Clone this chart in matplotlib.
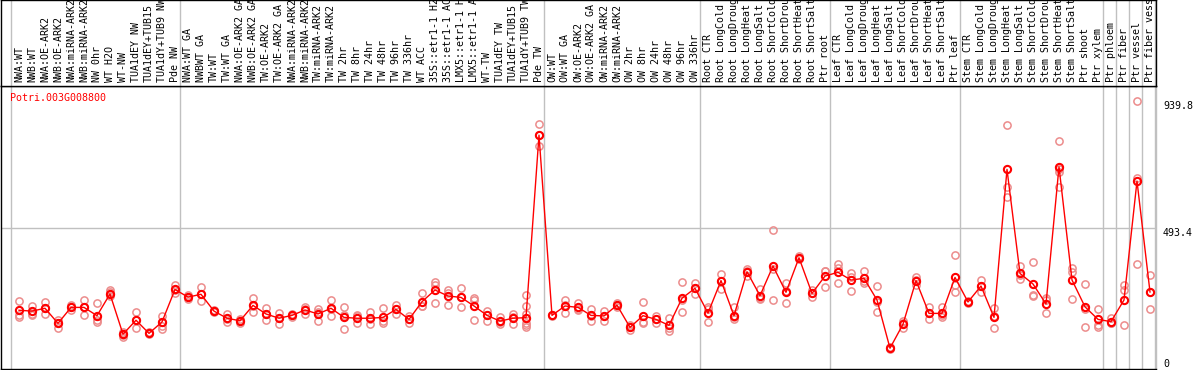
import numpy as np
import matplotlib
matplotlib.use('Agg')
from matplotlib import pyplot as plt
from matplotlib import transforms

gene = "Potri.003G008800"

samples = ["NWA:WT", "NWB:WT", "NWA:OE-ARK2", "NWB:OE-ARK2", "NWA:miRNA-ARK2", "NWB:miRNA-ARK2",
           "NW 0hr", "WT H2O", "WT-NW", "TUA1dEY NW", "TUA1dEY+TUB15", "TUA1dY+TUB9 NW", "Pde NW",
           "NWA:WT GA", "NWBWT GA", "TW:WT", "TW:WT GA", "NWA:OE-ARK2 GA", "NWB:OE-ARK2 GA",
           "TW:OE-ARK2", "TW:OE-ARK2 GA", "NWA:miRNA-ARK2", "NWB:miRNA-ARK2", "TW:miRNA-ARK2",
           "TW:miRNA-ARK2", "TW 2hr", "TW 8hr", "TW 24hr", "TW 48hr", "TW 96hr", "TW 336hr", "WT ACC",
           "35S::etr1-1 H2", "35S::etr1-1 AC", "LMX5::etr1-1 H", "LMX5::etr1-1 A", "WT-TW",
           "TUA1dEY TW", "TUA1dEY+TUB15", "TUA1dY+TUB9 TW", "Pde TW",
           "OW:WT", "OW:WT GA", "OW:OE-ARK2", "OW:OE-ARK2 GA", "OW:miRNA-ARK2", "OW:miRNA-ARK2",
           "OW 2hr", "OW 8hr", "OW 24hr", "OW 48hr", "OW 96hr", "OW 336hr",
           "Root CTR", "Root LongCold", "Root LongDroug", "Root LongHeat", "Root LongSalt",
           "Root ShortCold", "Root ShortDrou", "Root ShortHeat", "Root ShortSalt", "Ptr root",
           "Leaf CTR", "Leaf LongCold", "Leaf LongDroug", "Leaf LongHeat", "Leaf LongSalt",
           "Leaf ShortCold", "Leaf ShortDrou", "Leaf ShortHeat", "Leaf ShortSalt", "Ptr leaf",
           "Stem CTR", "Stem LongCold", "Stem LongDroug", "Stem LongHeat", "Stem LongSalt",
           "Stem ShortCold", "Stem ShortDrou", "Stem ShortHeat", "Stem ShortSalt", "Ptr shoot",
           "Ptr xylem", "Ptr phloem", "Ptr fiber", "Ptr vessel", "Ptr fiber vess"]

# index where each sample group starts
group_starts = [0, 13, 41, 53, 63, 73, 84, 85, 86, 87, 88]

means = [206, 203, 213, 160, 216, 216, 187, 263, 122, 171, 125, 165, 279, 252, 262, 203, 178, 169,
         223, 193, 178, 188, 207, 193, 213, 181, 178, 178, 181, 209, 174, 236, 277, 256, 251, 221,
         188, 168, 178, 180, 820, 188, 221, 216, 188, 186, 224, 146, 187, 174, 153, 248, 283, 196,
         310, 187, 341, 257, 361, 269, 390, 265, 326, 339,
         312, 318, 242, 73, 157, 310, 195, 195,
         321, 235, 291, 181, 700, 335, 298, 228, 709, 312, 218, 174, 166, 242, 659, 270]

reps = [[238, 189, 181], [221, 193, 188], [235, 213, 193], [172, 160, 143], [224, 216, 207],
        [241, 218, 189], [231, 172, 166], [277, 271, 256], [129, 119, 113], [199, 171, 143],
        [128, 125, 123], [186, 165, 151, 139], [295, 277, 265], [259, 253, 244], [288, 262, 240],
        [207, 203, 199], [193, 176, 166], [175, 168, 163], [248, 220, 201], [213, 193, 172],
        [197, 180, 157], [193, 188, 183], [218, 210, 193], [209, 200, 169], [242, 211, 186],
        [216, 188, 139], [189, 185, 160], [199, 177, 158], [213, 170, 160], [224, 210, 193],
        [186, 174, 162], [265, 222, 221], [306, 295, 232], [277, 267, 224], [285, 252, 216],
        [250, 241, 172], [205, 190, 169], [183, 164, 157], [193, 183, 158],
        [259, 221, 193, 160, 154, 148], [858, 820, 782], [190, 188, 185], [242, 224, 197],
        [230, 211, 207], [209, 186, 169], [204, 185, 169], [230, 224, 218], [154, 147, 137],
        [235, 166, 160], [186, 174, 162], [180, 145, 134], [304, 241, 199], [303, 283, 263],
        [218, 209, 164], [333, 310, 279], [216, 181, 174], [350, 345, 326], [279, 250, 245],
        [487, 350, 242], [303, 273, 230], [396, 390, 385], [277, 265, 254], [345, 344, 289],
        [368, 355, 300], [336, 324, 275], [345, 310, 300], [291, 236, 199], [78, 72, 70],
        [169, 160, 143], [324, 311, 295], [216, 195, 174], [216, 188, 181], [400, 295, 271],
        [238, 235, 232], [312, 290, 271], [213, 187, 143], [855, 639, 602], [361, 329, 315],
        [376, 259, 256], [248, 241, 195], [799, 700, 689, 639], [353, 339, 244], [298, 210, 146],
        [209, 154, 146], [178, 160, 160], [295, 277, 154], [939.8, 669, 368], [330, 271, 209]]

yticks = [0, 493.4, 939.8]

W, H = 1194, 370
fig = plt.figure(figsize=(W / 100, H / 100), dpi=100)
font = dict(family='DejaVu Sans Mono', size=7.2)

# pixel layout
left, right, top_lab, mid, bottom = 1, 1156, 0, 86, 369
ax = fig.add_axes([left / W, (H - bottom) / H, (right - left) / W, (bottom - mid) / H])
axl = fig.add_axes([left / W, (H - mid) / H, (right - left) / W, (mid - top_lab) / H])

x = np.arange(len(samples))
xlim = ((left - 19) / 13, (right - 19) / 13)
for a in (ax, axl):
    a.set_xlim(xlim)
    a.set_xticks([])
    a.set_yticks([])
    for s in a.spines.values():
        s.set_color('black')
        s.set_linewidth(1)
    for g in group_starts:
        a.axvline(g - 0.6, color='#c0c0c0', lw=1, zorder=0)
ax.spines['right'].set_color('#c0c0c0')
ax.set_ylim(0, 992.3)
axl.set_ylim(0, 1)

ax.axhline(yticks[1], color='#c0c0c0', lw=1, zorder=0)

rx = []
ry = []
for i, r in enumerate(reps):
    rx += [i] * len(r)
    ry += r
ax.plot(rx, ry, 'o', ms=5.2, mfc='none', mec='#ec8c8c', mew=1.1, zorder=2, clip_on=False)
ax.plot(x, means, '-', color='red', lw=1, zorder=3)
ax.plot(x, means, 'o', ms=5.2, mfc='none', mec='red', mew=1.5, zorder=4)

for i, s in enumerate(samples):
    axl.text(i, 0.045, s, rotation=90, ha='center', va='bottom', fontdict=font, clip_on=True)

ax.text(0.008, 0.975, gene, transform=ax.transAxes, ha='left', va='top', color='red', fontdict=font)

tr = transforms.blended_transform_factory(fig.transFigure, ax.transData)
for v in yticks:
    lab = '0' if v == 0 else '%.1f' % v
    ax.text(1163 / W, v, lab, transform=tr, ha='left', va='bottom' if v == 0 else 'top',
            fontdict=font, clip_on=False)

plt.savefig('out.png', dpi=100)
